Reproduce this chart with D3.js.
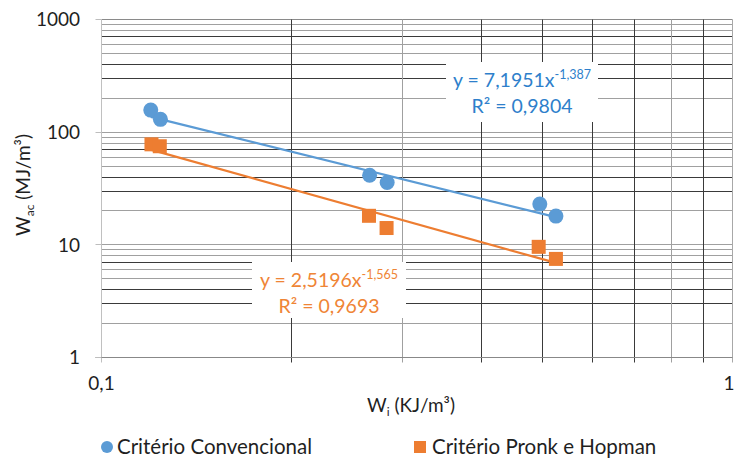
<!DOCTYPE html>
<html><head><meta charset="utf-8">
<script src="https://cdn.jsdelivr.net/npm/d3@7"></script>
<style>html,body{margin:0;padding:0;background:#fff;}svg{display:block;font-family:Lato,"Open Sans",sans-serif;}</style>
</head><body>
<svg id="c" width="736" height="462"></svg>
<script>
// ---- data ----
const seriesNames = ["Critério Convencional", "Critério Pronk e Hopman"];
const xConv  = [0.1197, 0.1240, 0.266, 0.2836, 0.495, 0.525];
const yConv  = [157, 130, 41.5, 35.8, 23.0, 18.0];
const xPronk = [0.1200, 0.1237, 0.2654, 0.2830, 0.493, 0.525];
const yPronk = [78, 75, 18.1, 14.1, 9.6, 7.5];
const trendCoef = [7.1951, 2.5196];
const trendExp  = [-1.387, -1.565];
const trendR2   = ["0,9804", "0,9693"];
const eqCoefText = ["7,1951", "2,5196"];
const eqExpText  = ["-1,387", "-1,565"];
const xTicks = [0.1, 1];
const xTickLabels = ["0,1", "1"];
const yTicks = [1, 10, 100, 1000];
const yTickLabels = ["1", "10", "100", "1000"];

const colors = ["#5B9BD5", "#ED7D31"];
const textColors = ["#2E7FCB", "#EF8536"];

const svg = d3.select("#c");
const W = 736;
const L = 101.5, R = 732.5, T = 19.5, B = 357.5;
const x = d3.scaleLog().domain([0.1, 1]).range([L, R]);
const y = d3.scaleLog().domain([1, 1000]).range([B, T]);
const snap = v => Math.round(v - 0.5) + 0.5;

// gridlines
const g = svg.append("g");
const hDark = new Set([3, 4, 7]);
const vDark = new Set([2, 4, 5, 6, 7, 9]);
const hVals = [];
[1, 10, 100].forEach(d => { for (let k = 2; k <= 9; k++) hVals.push({v: k * d, k}); });
[10, 100].forEach(v => hVals.push({v, k: 1}));
g.selectAll("line.h").data(hVals).join("line")
  .attr("x1", L).attr("x2", R)
  .attr("y1", d => snap(y(d.v))).attr("y2", d => snap(y(d.v)))
  .attr("stroke", d => hDark.has(d.k) ? "#3a3a3a" : "#a0a0a0").attr("stroke-width", 1);
g.append("line").attr("x1", L).attr("x2", R).attr("y1", snap(y(1000))).attr("y2", snap(y(1000)))
  .attr("stroke", "#8a8a8a");
const vVals = [];
for (let k = 2; k <= 9; k++) vVals.push({v: k / 10, k});
g.selectAll("line.v").data(vVals).join("line")
  .attr("y1", T).attr("y2", B + 5)
  .attr("x1", d => snap(x(d.v))).attr("x2", d => snap(x(d.v)))
  .attr("stroke", d => vDark.has(d.k) ? "#3a3a3a" : "#a0a0a0").attr("stroke-width", 1);
g.append("line").attr("x1", snap(x(1))).attr("x2", snap(x(1))).attr("y1", T).attr("y2", B + 5).attr("stroke", "#a8a8a8");
// axes
g.append("line").attr("x1", snap(x(0.1))).attr("x2", snap(x(0.1))).attr("y1", T).attr("y2", B + 5).attr("stroke", "#c0c0c0");
g.append("line").attr("x1", L - 6).attr("x2", R).attr("y1", snap(y(1))).attr("y2", snap(y(1))).attr("stroke", "#888");
g.selectAll("line.yt").data(yTicks).join("line")
  .attr("x1", L - 6).attr("x2", L).attr("y1", d => snap(y(d))).attr("y2", d => snap(y(d))).attr("stroke", "#bdbdbd");

// tick labels
svg.selectAll("text.yl").data(yTicks).join("text")
  .attr("x", 80).attr("y", d => y(d)).attr("dy", "0.36em").attr("text-anchor", "end")
  .attr("font-size", 19).attr("fill", "#1f1f1f").text((d, i) => yTickLabels[i]);
svg.selectAll("text.xl").data(xTicks).join("text")
  .attr("x", d => Math.min(x(d), W - 7)).attr("y", 390).attr("text-anchor", "middle")
  .attr("font-size", 19).attr("fill", "#1f1f1f").text((d, i) => xTickLabels[i]);

// axis titles
const xt = svg.append("text").attr("x", 411).attr("y", 412).attr("text-anchor", "middle")
  .attr("font-size", 19).attr("fill", "#1f1f1f");
xt.append("tspan").text("W");
xt.append("tspan").attr("font-size", 12).attr("dy", 4).text("i");
xt.append("tspan").attr("dy", -4).text(" (KJ/m³)");
const yt = svg.append("text").attr("transform", "translate(30,185) rotate(-90)").attr("text-anchor", "middle")
  .attr("font-size", 19).attr("fill", "#1f1f1f");
yt.append("tspan").text("W");
yt.append("tspan").attr("font-size", 12).attr("dy", 4).text("ac");
yt.append("tspan").attr("dy", -4).text("  (MJ/m³)");

// trend lines
const sx = [xConv, xPronk];
[0, 1].forEach(i => {
  const xs = d3.extent(sx[i]);
  svg.append("line")
    .attr("x1", x(xs[0])).attr("y1", y(trendCoef[i] * Math.pow(xs[0], trendExp[i])))
    .attr("x2", x(xs[1])).attr("y2", y(trendCoef[i] * Math.pow(xs[1], trendExp[i])))
    .attr("stroke", colors[i]).attr("stroke-width", 2.25);
});

// markers
svg.selectAll("circle.p").data(xConv).join("circle")
  .attr("cx", d => x(d)).attr("cy", (d, i) => y(yConv[i])).attr("r", 7.5).attr("fill", colors[0]);
const sq = 14;
svg.selectAll("rect.p").data(xPronk).join("rect")
  .attr("x", d => x(d) - sq / 2).attr("y", (d, i) => y(yPronk[i]) - sq / 2)
  .attr("width", sq).attr("height", sq).attr("fill", colors[1]);

// equation labels
const labelPos = [[522, 62, 152, 60], [329, 262, 154, 56]];
[0, 1].forEach(i => {
  const [cx, ty, w, h] = labelPos[i];
  svg.append("rect").attr("x", cx - w / 2).attr("y", ty).attr("width", w).attr("height", h).attr("fill", "#fff");
  const t1 = svg.append("text").attr("x", cx).attr("y", ty + 25).attr("text-anchor", "middle")
    .attr("font-size", 19.5).attr("fill", textColors[i]);
  t1.append("tspan").text("y = " + eqCoefText[i] + "x");
  t1.append("tspan").attr("font-size", 12.5).attr("dy", -8).text(eqExpText[i]);
  svg.append("text").attr("x", cx).attr("y", ty + 51).attr("text-anchor", "middle")
    .attr("font-size", 19.5).attr("fill", textColors[i]).text("R² = " + trendR2[i]);
});

// legend
const lg = svg.append("g").attr("font-size", 20.5).attr("fill", "#1f1f1f");
lg.append("circle").attr("cx", 107).attr("cy", 447).attr("r", 6).attr("fill", colors[0]);
lg.append("text").attr("x", 117).attr("y", 447).attr("dy", "0.36em").text(seriesNames[0]);
lg.append("rect").attr("x", 414).attr("y", 441).attr("width", 12).attr("height", 12).attr("fill", colors[1]);
lg.append("text").attr("x", 432).attr("y", 447).attr("dy", "0.36em").text(seriesNames[1]);
</script>
</body></html>
